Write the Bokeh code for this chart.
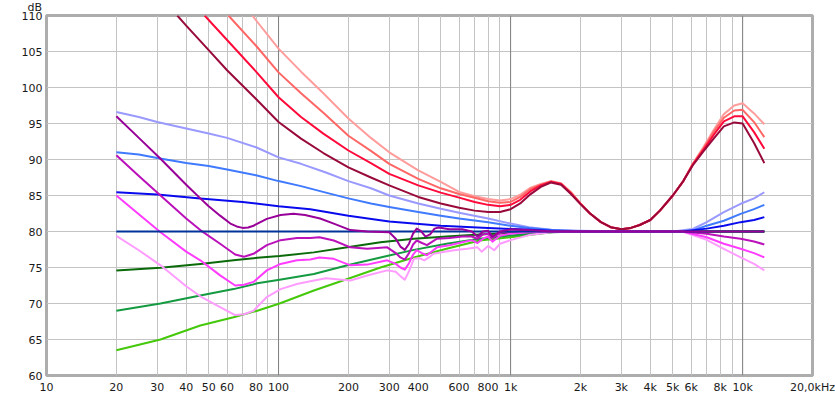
from bokeh.plotting import figure
from bokeh.models import FixedTicker, CustomJSTickFormatter, Span, Range1d, Title
from bokeh.embed import file_html
from bokeh.resources import INLINE

# ---------------- axes / ticks ----------------
x_ticks = [10, 20, 30, 40, 50, 60, 70, 80, 90, 100, 200, 300, 400, 500, 600, 700, 800, 900,
           1000, 2000, 3000, 4000, 5000, 6000, 7000, 8000, 9000, 10000, 20000]
x_tick_labels = ["10", "20", "30", "40", "50", "60", "", "80", "", "100", "200", "300", "400", "", "600", "", "800", "",
                 "1k", "2k", "3k", "4k", "5k", "6k", "", "8k", "", "10k", "20,0kHz"]
dark_grid = [100, 1000, 10000]
y_ticks = [60, 65, 70, 75, 80, 85, 90, 95, 100, 105, 110]
y_unit = "dB"

# ---------------- curves (Hz, dB) ----------------
f_lsalmon = [77, 100, 125, 156, 200, 250, 300, 400, 500, 600, 700, 800, 900, 1000, 1100,
             1220, 1350, 1490, 1650, 1820, 2000, 2200, 2450, 2700, 3000, 3300, 3600, 4000, 4400, 5000,
             5550, 6100, 6800, 7500, 8300, 9200, 10000, 11200, 12400]
v_lsalmon = [110, 105.4, 102.2, 99.2, 95.7, 93.0, 91.0, 88.5, 86.9, 85.5, 84.9, 84.5, 84.3, 84.5, 85.1,
             86.1, 86.6, 87.0, 86.7, 85.5, 83.9, 82.5, 81.3, 80.6, 80.3, 80.5, 80.9, 81.6, 82.9, 85.0,
             87.0, 89.4, 91.8, 94.1, 96.3, 97.5, 97.8, 96.4, 94.9]

f_salmon = [60.8, 80, 100, 125, 156, 200, 250, 300, 400, 500, 600, 700, 800, 900, 1000, 1100,
            1220, 1350, 1490, 1650, 1820, 2000, 2200, 2450, 2700, 3000, 3300, 3600, 4000, 4400, 5000,
            5550, 6100, 6800, 7500, 8300, 9200, 10000, 11200, 12400]
v_salmon = [110, 105.8, 102.1, 99.2, 96.5, 93.3, 91.2, 89.4, 87.3, 86.0, 85.2, 84.7, 84.2, 84.0, 84.1, 84.8,
            85.9, 86.5, 86.95, 86.65, 85.4, 83.9, 82.5, 81.3, 80.6, 80.3, 80.5, 80.9, 81.6, 82.9, 85.0,
            87.0, 89.4, 91.6, 93.8, 95.8, 96.8, 96.9, 95.2, 93.1]

f_red = [48, 60, 80, 100, 125, 156, 200, 250, 300, 400, 500, 600, 700, 800, 900, 1000, 1100,
         1220, 1350, 1490, 1650, 1820, 2000, 2200, 2450, 2700, 3000, 3300, 3600, 4000, 4400, 5000,
         5550, 6100, 6800, 7500, 8300, 9200, 10000, 11200, 12400]
v_red = [110, 106.6, 102.2, 98.65, 95.9, 93.6, 91.25, 89.5, 88.0, 86.4, 85.4, 84.7, 84.1, 83.7, 83.5, 83.7, 84.4,
         85.6, 86.4, 86.9, 86.6, 85.3, 83.85, 82.5, 81.3, 80.6, 80.3, 80.5, 80.9, 81.6, 82.9, 85.0,
         87.0, 89.3, 91.4, 93.4, 95.3, 96.0, 96.0, 93.8, 91.5]

f_dred = [36.6, 40, 50, 60, 80, 100, 125, 156, 200, 250, 300, 400, 500, 600, 700, 800, 900, 1000, 1100,
          1220, 1350, 1490, 1650, 1820, 2000, 2200, 2450, 2700, 3000, 3300, 3600, 4000, 4400, 5000,
          5550, 6100, 6800, 7500, 8300, 9200, 10000, 11200, 12400]
v_dred = [110, 108.6, 105.2, 102.4, 98.4, 95.2, 92.9, 90.9, 88.9, 87.5, 86.4, 84.8, 83.9, 83.3, 82.9, 82.7, 82.7, 83.1, 83.9,
          85.2, 86.2, 86.8, 86.5, 85.2, 83.8, 82.5, 81.3, 80.6, 80.3, 80.5, 80.9, 81.6, 82.9, 85.0,
          87.0, 89.2, 91.2, 92.9, 94.6, 95.15, 95.0, 92.3, 89.5]

f_lblue = [20, 25, 30, 40, 50, 60, 80, 100, 125, 160, 200, 250, 300, 400, 500, 600, 800, 1000, 1200, 1500,
           2000, 3000, 5000, 6100, 7000, 8300, 9800, 11200, 12400]
v_lblue = [96.6, 95.9, 95.2, 94.3, 93.6, 93.0, 91.7, 90.3, 89.4, 88.2, 87.0, 86.0, 85.0, 83.9, 83.15, 82.6, 81.8, 81.1, 80.6, 80.25,
           80.1, 80.0, 80.0, 80.35, 81.3, 82.7, 83.85, 84.6, 85.45]

f_mblue = [20, 25, 30, 40, 50, 60, 80, 100, 125, 160, 200, 250, 300, 400, 500, 600, 800, 1000, 1200, 1500,
           2000, 5000, 6100, 7000, 8300, 9800, 11200, 12400]
v_mblue = [91.0, 90.7, 90.2, 89.5, 89.1, 88.6, 87.8, 87.0, 86.3, 85.4, 84.6, 83.9, 83.4, 82.7, 82.2, 81.8, 81.3, 80.8, 80.5, 80.2,
           80.05, 80.0, 80.15, 80.8, 81.5, 82.45, 83.1, 83.7]

f_blue = [20, 30, 46, 70, 100, 137, 200, 300, 500, 800, 1100, 1500, 2000, 5500, 7000, 8300, 9800, 11200, 12400]
v_blue = [85.45, 85.15, 84.6, 84.1, 83.5, 83.1, 82.2, 81.4, 80.8, 80.5, 80.3, 80.1, 80.0, 80.0, 80.4, 80.8, 81.3, 81.6, 82.0]

f_navy = [20, 12400]
v_navy = [80, 80]

f_dpurple = [20, 25, 31, 40, 46, 50, 56, 62, 66, 70, 74, 78, 89, 102, 116, 130, 151, 173, 204, 241,
             300, 320, 335, 350, 365, 380, 394, 410, 430, 450, 470, 490, 545, 620, 680, 720, 760, 800, 835, 900,
             1000, 1200, 1500, 12400]
v_dpurple = [96.0, 93.0, 90.1, 86.5, 84.6, 83.5, 82.2, 81.1, 80.7, 80.5, 80.55, 80.8, 81.75, 82.3, 82.45, 82.3, 81.8, 81.1, 80.2, 80.0,
             79.9, 79.0, 77.9, 77.45, 78.3, 79.7, 80.4, 80.1, 79.3, 79.6, 80.4, 80.55, 80.3, 80.3, 80.0, 79.3, 80.0, 80.1, 79.3, 80.0,
             80.3, 80.2, 80.0, 80.0]

f_magenta = [20, 25, 31, 40, 46, 56, 65, 71, 78, 89, 102, 120, 137, 150, 173, 204, 241, 294, 320, 335,
             350, 365, 380, 394, 415, 436, 460, 482, 545, 620, 680, 720, 760, 800, 835, 900, 1000, 1200, 1500, 5500,
             7000, 8300, 9800, 11200, 12400]
v_magenta = [90.6, 87.7, 85.0, 81.8, 80.2, 78.3, 76.8, 76.5, 76.9, 78.1, 78.8, 79.1, 79.1, 79.2, 78.75, 77.8, 77.6, 77.8, 77.0, 76.4,
             76.1, 77.0, 78.2, 78.75, 78.4, 78.1, 78.6, 79.0, 79.1, 79.3, 79.3, 79.0, 79.6, 79.7, 79.1, 79.8, 80.0, 80.1, 80.0, 80.0,
             79.7, 79.3, 79.0, 78.6, 78.2]

f_pink = [20, 25, 31, 40, 46, 56, 65, 71, 78, 89, 102, 120, 137, 150, 173, 204, 241, 294, 320, 335,
          350, 365, 380, 394, 415, 436, 460, 482, 545, 620, 680, 720, 760, 800, 835, 900, 1000, 1200, 1500, 5500,
          7000, 8300, 9800, 11200, 12400]
v_pink = [85.0, 82.4, 79.9, 77.2, 76.0, 73.9, 72.5, 72.6, 73.0, 74.6, 75.5, 76.0, 76.1, 76.4, 76.2, 75.3, 75.4, 76.0, 75.5, 75.0,
          74.7, 75.6, 76.8, 77.4, 77.0, 76.7, 77.3, 77.8, 78.1, 78.5, 78.8, 78.4, 79.0, 79.3, 78.6, 79.4, 79.7, 79.9, 80.0, 80.0,
          79.2, 78.3, 77.6, 77.0, 76.4]

f_lpink = [20, 25, 31, 40, 46, 56, 65, 71, 78, 89, 102, 120, 137, 160, 204, 241, 294, 320, 335, 350,
           365, 383, 405, 424, 445, 465, 520, 570, 650, 720, 750, 800, 850, 900, 1000, 1200, 1500, 2000, 5500, 7000,
           8300, 9800, 11200, 12400]
v_lpink = [79.4, 77.4, 75.3, 72.4, 71.0, 69.5, 68.4, 68.5, 69.0, 70.9, 72.0, 72.7, 73.1, 73.5, 73.2, 73.9, 74.6, 74.4, 73.8, 73.3,
           74.5, 76.2, 76.3, 76.0, 76.4, 76.9, 77.2, 77.4, 77.6, 77.8, 77.2, 78.0, 77.4, 78.3, 78.8, 79.5, 79.9, 80.0, 80.0, 78.85,
           77.6, 76.4, 75.5, 74.6]

f_dgreen = [20, 31, 46, 64, 81, 101, 142, 198, 275, 383, 530, 736, 1000, 1500, 12400]
v_dgreen = [74.6, 74.95, 75.5, 76.0, 76.35, 76.6, 77.1, 77.8, 78.5, 79.0, 79.3, 79.6, 79.8, 80.0, 80.0]

f_mgreen = [20, 31, 46, 64, 81, 101, 142, 198, 275, 383, 530, 736, 1000, 1500, 2000, 12400]
v_mgreen = [69.0, 70.0, 71.1, 72.0, 72.8, 73.3, 74.1, 75.3, 76.4, 77.45, 78.3, 79.0, 79.45, 79.9, 80.0, 80.0]

f_bgreen = [20, 31, 46, 64, 81, 101, 142, 198, 275, 383, 530, 736, 1000, 1600, 12400]
v_bgreen = [63.5, 65.0, 66.95, 68.1, 69.0, 70.0, 71.8, 73.4, 75.0, 76.4, 77.6, 78.75, 79.2, 80.0, 80.0]

curves = [
    (f_bgreen, v_bgreen, "#44C80A"),
    (f_mgreen, v_mgreen, "#149A40"),
    (f_dgreen, v_dgreen, "#0A6A0A"),
    (f_lsalmon, v_lsalmon, "#FF9C9C"),
    (f_salmon, v_salmon, "#FF6666"),
    (f_red, v_red, "#FF0A3A"),
    (f_dred, v_dred, "#990A3C"),
    (f_lblue, v_lblue, "#9999FF"),
    (f_mblue, v_mblue, "#3F7AFF"),
    (f_blue, v_blue, "#0A0AEE"),
    (f_lpink, v_lpink, "#FF9CFF"),
    (f_pink, v_pink, "#FF3CFF"),
    (f_magenta, v_magenta, "#BB11BB"),
    (f_navy, v_navy, "#003399"),
    (f_dpurple, v_dpurple, "#990099"),
]

FONT = "DejaVu Sans"

p = figure(width=835, height=397, x_axis_type="log",
           x_range=Range1d(10, 20000), y_range=Range1d(60, 110),
           output_backend="svg", toolbar_location=None,
           min_border_left=46, min_border_right=23, min_border_top=15, min_border_bottom=22)
p.title = Title(text=y_unit, align="left", offset=-19, standoff=0, vertical_align="top",
                text_font=FONT, text_font_size="11px", text_font_style="normal", text_color="#1a1a1a",
                text_line_height=1.0)
p.background_fill_color = "white"
p.border_fill_color = "white"
p.outline_line_color = "#ADADAD"
p.outline_line_width = 3

p.xaxis.ticker = FixedTicker(ticks=x_ticks, minor_ticks=[])
p.xaxis.formatter = CustomJSTickFormatter(args=dict(tvals=x_ticks, tlabels=x_tick_labels), code="""
    for (let i = 0; i < tvals.length; i++) {
        if (Math.abs(Math.log10(tvals[i]) - Math.log10(tick)) < 1e-6) return tlabels[i];
    }
    return "";
""")
p.yaxis.ticker = FixedTicker(ticks=y_ticks, minor_ticks=[])

for ax in (p.xaxis[0], p.yaxis[0]):
    ax.axis_line_color = None
    ax.major_tick_line_color = None
    ax.minor_tick_line_color = None
    ax.major_tick_out = 0
    ax.major_tick_in = 0
    ax.major_label_text_font = FONT
    ax.major_label_text_font_size = "11px"
    ax.major_label_text_color = "#1a1a1a"
p.xaxis.major_label_standoff = 5
p.yaxis.major_label_standoff = 4

p.xgrid.grid_line_color = "#C4C4C4"
p.ygrid.grid_line_color = "#C4C4C4"
p.xgrid.grid_line_width = 1
p.ygrid.grid_line_width = 1

for fx in dark_grid:
    p.add_layout(Span(location=fx, dimension="height", line_color="#808080", line_width=1, level="underlay"))

for fx, vy, col in curves:
    p.line(fx, vy, line_color=col, line_width=2, line_join="round")

open("out.html", "w").write(file_html(p, INLINE))
